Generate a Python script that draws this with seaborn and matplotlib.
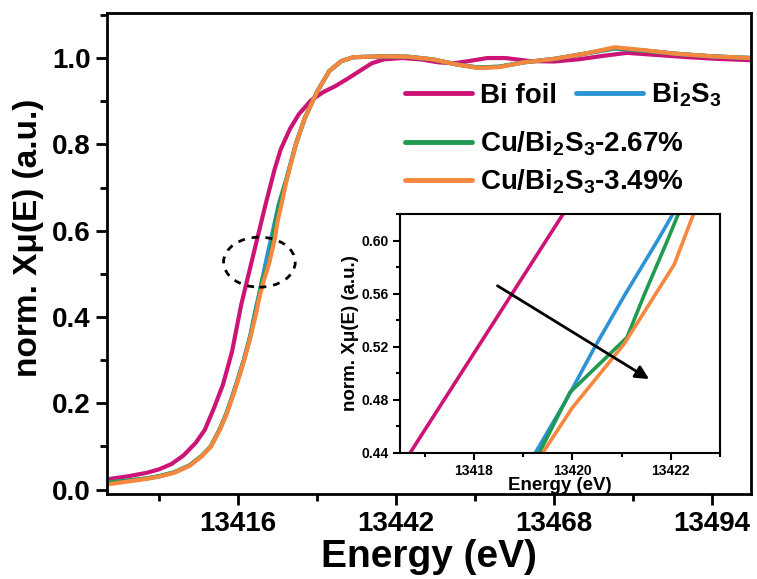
import numpy as np
import pandas as pd
import matplotlib
matplotlib.use("Agg")
import matplotlib.pyplot as plt
import seaborn as sns
from matplotlib.patches import Ellipse
from matplotlib.lines import Line2D
from matplotlib.ticker import MultipleLocator

# ---------------- data ----------------
series_names = ["Bi foil", "Bi$_2$S$_3$", "Cu/Bi$_2$S$_3$-2.67%", "Cu/Bi$_2$S$_3$-3.49%"]
series_colors = ["#CC1477", "#2B93D6", "#1F9A50", "#F5883E"]

bi_foil_E = [13395, 13398, 13401, 13403, 13405, 13407, 13409, 13410.5, 13412, 13413.5,
             13415, 13416.5, 13417.5, 13418.5, 13419.5, 13420.5, 13422, 13423, 13424.5, 13426,
             13428, 13430, 13432, 13434, 13436, 13438, 13440, 13443, 13446, 13449,
             13451.5, 13454, 13457, 13460, 13464, 13468, 13472, 13476, 13480, 13485,
             13490, 13495, 13500.5]
bi_foil_mu = [0.025, 0.031, 0.039, 0.047, 0.059, 0.079, 0.108, 0.138, 0.188, 0.243,
              0.320, 0.428, 0.486, 0.544, 0.602, 0.660, 0.742, 0.788, 0.835, 0.870,
              0.902, 0.921, 0.935, 0.952, 0.970, 0.988, 0.997, 1.000, 0.997, 0.990,
              0.988, 0.993, 1.000, 1.000, 0.993, 0.992, 0.997, 1.005, 1.012, 1.007,
              1.002, 0.998, 0.995]

bi2s3_E = [13395, 13398, 13401, 13403, 13405.5, 13408, 13410, 13411.5, 13413, 13414,
           13415, 13416, 13417, 13418, 13419, 13419.25, 13419.88, 13420.46, 13421.08, 13421.73,
           13422.04, 13422.7, 13424, 13425.5, 13427, 13429, 13431, 13433, 13435, 13440,
           13444, 13448, 13452, 13455.5, 13459, 13463, 13468, 13473, 13478, 13483,
           13488, 13494, 13500.5]
bi2s3_mu = [0.017, 0.021, 0.026, 0.031, 0.040, 0.056, 0.078, 0.100, 0.141, 0.174,
            0.215, 0.258, 0.304, 0.357, 0.425, 0.440, 0.480, 0.520, 0.560, 0.600,
            0.620, 0.662, 0.722, 0.801, 0.862, 0.922, 0.970, 0.993, 1.002, 1.004,
            1.003, 0.997, 0.985, 0.978, 0.980, 0.990, 0.998, 1.010, 1.022, 1.017,
            1.010, 1.004, 1.000]

cu267_E = [13395, 13398, 13401, 13403, 13405.5, 13408, 13410, 13411.5, 13413, 13414,
           13415, 13416, 13417, 13418, 13419, 13419.33, 13419.95, 13421.11, 13421.47, 13421.93,
           13422.14, 13422.8, 13424, 13425.5, 13427, 13429, 13431, 13433, 13435, 13440,
           13444, 13448, 13452, 13455.5, 13459, 13463, 13468, 13473, 13478, 13483,
           13488, 13494, 13500.5]
cu267_mu = [0.017, 0.021, 0.026, 0.031, 0.040, 0.056, 0.078, 0.100, 0.140, 0.173,
            0.213, 0.256, 0.302, 0.355, 0.420, 0.440, 0.4855, 0.527, 0.560, 0.600,
            0.619, 0.662, 0.721, 0.800, 0.862, 0.922, 0.970, 0.993, 1.002, 1.004,
            1.003, 0.997, 0.985, 0.978, 0.980, 0.990, 0.998, 1.010, 1.023, 1.017,
            1.010, 1.004, 1.000]

cu349_E = [13395, 13398, 13401, 13403, 13405.5, 13408, 13410, 13411.5, 13413, 13414,
           13415, 13416, 13417, 13418, 13419, 13419.4, 13420.0, 13421.05, 13422.07, 13422.45,
           13423.2, 13424, 13425.5, 13427, 13429, 13431, 13433, 13435, 13440,
           13444, 13448, 13452, 13455.5, 13459, 13463, 13468, 13473, 13478, 13483,
           13488, 13494, 13500.5]
cu349_mu = [0.013, 0.019, 0.025, 0.030, 0.039, 0.055, 0.077, 0.099, 0.139, 0.171,
            0.211, 0.254, 0.300, 0.352, 0.410, 0.440, 0.474, 0.522, 0.582, 0.619,
            0.665, 0.718, 0.800, 0.862, 0.922, 0.970, 0.993, 1.002, 1.004,
            1.003, 0.997, 0.985, 0.977, 0.979, 0.990, 0.998, 1.010, 1.025, 1.018,
            1.010, 1.004, 1.000]

main_xticks = [13416, 13442, 13468, 13494]
main_yticks = [0.0, 0.2, 0.4, 0.6, 0.8, 1.0]
inset_xticks = [13418, 13420, 13422]
inset_yticks = [0.44, 0.48, 0.52, 0.56, 0.60]

# ---------------- build table ----------------
frames = []
for name, E, mu in zip(series_names,
                       [bi_foil_E, bi2s3_E, cu267_E, cu349_E],
                       [bi_foil_mu, bi2s3_mu, cu267_mu, cu349_mu]):
    frames.append(pd.DataFrame({"Energy": E, "mu": mu, "sample": name}))
df = pd.concat(frames, ignore_index=True)
palette = dict(zip(series_names, series_colors))

# ---------------- style ----------------
sns.set_style("ticks")
plt.rcParams["font.family"] = ["Liberation Sans", "DejaVu Sans"]
plt.rcParams["font.weight"] = "bold"
plt.rcParams["axes.labelweight"] = "bold"
plt.rcParams["text.color"] = "black"
plt.rcParams["axes.labelcolor"] = "black"
plt.rcParams["axes.edgecolor"] = "black"
plt.rcParams["xtick.color"] = "black"
plt.rcParams["ytick.color"] = "black"
plt.rcParams["mathtext.fontset"] = "custom"
plt.rcParams["mathtext.rm"] = "Liberation Sans:bold"
plt.rcParams["mathtext.it"] = "Liberation Sans:bold"
plt.rcParams["mathtext.bf"] = "Liberation Sans:bold"
plt.rcParams["mathtext.default"] = "rm"

fig = plt.figure(figsize=(7.57, 5.79), dpi=100)
fig.patch.set_facecolor("white")

ax = fig.add_axes([0.142, 0.147, 0.850, 0.831])
sns.lineplot(data=df, x="Energy", y="mu", hue="sample", hue_order=series_names,
             palette=palette, estimator=None, sort=False, lw=3.0, legend=False, ax=ax)
ax.set_xlim(13394.5, 13500.4)
ax.set_ylim(-0.01, 1.105)
ax.set_xticks(main_xticks)
ax.set_yticks(main_yticks)
ax.set_yticklabels([f"{v:.1f}" for v in main_yticks])
ax.xaxis.set_minor_locator(MultipleLocator(13))
ax.yaxis.set_minor_locator(MultipleLocator(0.1))
ax.tick_params(which="major", direction="out", length=8, width=2, labelsize=20, pad=4,
               colors="black")
ax.tick_params(which="minor", direction="out", length=5, width=2, colors="black")
for lab in ax.get_xticklabels() + ax.get_yticklabels():
    lab.set_fontweight("bold")
for s in ax.spines.values():
    s.set_linewidth(2)
    s.set_visible(True)
    s.set_color("black")
ax.set_xlabel("Energy (eV)", fontsize=28, fontweight="bold", labelpad=2)
ax.set_ylabel("norm. Xμ(E) (a.u.)", fontsize=24, fontweight="bold")
ax.yaxis.set_label_coords(-0.098, 0.533)

# dashed ellipse
ax.add_patch(Ellipse((13419.5, 0.527), 11.8, 0.116, fill=False, ls=(0, (2.5, 2.5)),
                     lw=2, edgecolor="black", zorder=5))

# legends
handles = [Line2D([0], [0], color=c, lw=3.5) for c in series_colors]
leg1 = ax.legend(handles[:2], series_names[:2], ncol=2, loc="center left",
                 bbox_to_anchor=(0.535, 0.836), bbox_transform=fig.transFigure,
                 frameon=False, fontsize=20, handlelength=2.4, handletextpad=0.3,
                 columnspacing=0.7, borderpad=0, borderaxespad=0)
for t in leg1.get_texts():
    t.set_fontweight("bold")
ax.add_artist(leg1)
leg2 = ax.legend(handles[2:], series_names[2:], ncol=1, loc="center left",
                 bbox_to_anchor=(0.535, 0.719), bbox_transform=fig.transFigure,
                 frameon=False, fontsize=20, handlelength=2.4, handletextpad=0.3,
                 labelspacing=0.35, borderpad=0, borderaxespad=0)
for t in leg2.get_texts():
    t.set_fontweight("bold")

# ---------------- inset ----------------
axin = fig.add_axes([0.5284, 0.218, 0.4227, 0.412])
sns.lineplot(data=df, x="Energy", y="mu", hue="sample", hue_order=series_names,
             palette=palette, estimator=None, sort=False, lw=2.6, legend=False, ax=axin)
axin.set_xlim(13416.5, 13423.0)
axin.set_ylim(0.44, 0.62)
axin.set_xticks(inset_xticks)
axin.set_yticks(inset_yticks)
axin.set_yticklabels([f"{v:.2f}" for v in inset_yticks])
axin.xaxis.set_minor_locator(MultipleLocator(1))
axin.yaxis.set_minor_locator(MultipleLocator(0.02))
axin.tick_params(which="major", direction="out", length=5, width=1.5, labelsize=10, pad=3,
                 colors="black")
axin.tick_params(which="minor", direction="out", length=3, width=1.5, colors="black")
for lab in axin.get_xticklabels() + axin.get_yticklabels():
    lab.set_fontweight("bold")
for s in axin.spines.values():
    s.set_linewidth(1.5)
    s.set_visible(True)
    s.set_color("black")
axin.set_xlabel("Energy (eV)", fontsize=13.5, fontweight="bold", labelpad=-1)
axin.set_ylabel("norm. Xμ(E) (a.u.)", fontsize=13.5, fontweight="bold", labelpad=2)
axin.annotate("", xy=(13421.56, 0.4956), xytext=(13418.48, 0.566),
              arrowprops=dict(arrowstyle="-|>", color="black", lw=2, mutation_scale=20,
                              shrinkA=0, shrinkB=0))

fig.savefig("out.png", dpi=100, facecolor="white")
